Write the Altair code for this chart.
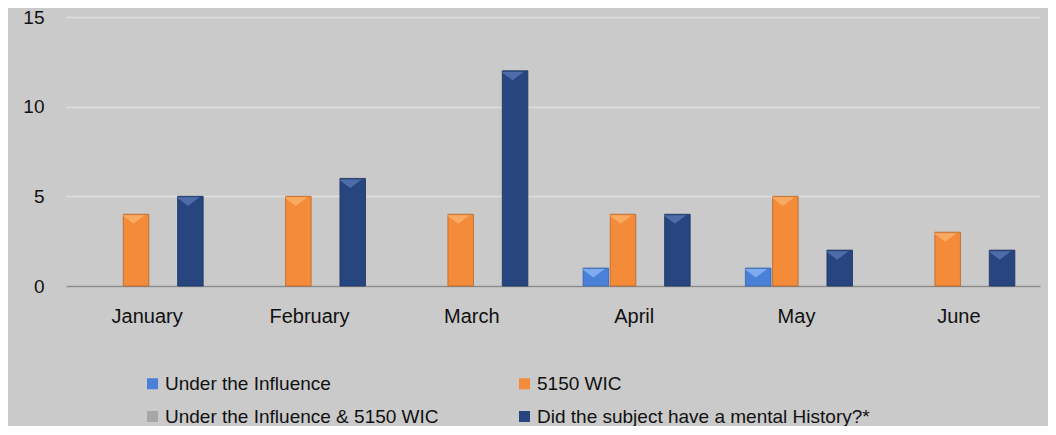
import altair as alt
import pandas as pd

months = ["January", "February", "March", "April", "May", "June"]
series = ["Under the Influence", "5150 WIC", "Under the Influence & 5150 WIC",
          "Did the subject have a mental History?*"]
under_influence = [0, 0, 0, 1, 1, 0]
wic_5150 = [4, 5, 4, 4, 5, 3]
both = [0, 0, 0, 0, 0, 0]
mental_history = [5, 6, 12, 4, 2, 2]
colors = ["#4a80d8", "#f38b38", "#a6a6a6", "#27467f"]
strokes = ["#3a64a8", "#b8682a", "#808080", "#1a3260"]
highlights = ["#7eaaf0", "#f9aa62", "#c8c8c8", "#4d6ca8"]

rows = []
for vals, s in zip([under_influence, wic_5150, both, mental_history], series):
    for m, v in zip(months, vals):
        rows.append({"month": m, "series": s, "value": v})
df = pd.DataFrame(rows)

FONT = "Liberation Sans"
legend_order = [series[0], series[2], series[1], series[3]]

base = alt.Chart(df).transform_filter("datum.value > 0")

x_enc = alt.X("month:N", sort=months, title=None,
              scale=alt.Scale(domain=months, paddingInner=0.33, paddingOuter=0.165),
              axis=alt.Axis(labelAngle=0, ticks=False, domain=True, domainColor="#8a8a8a",
                            domainWidth=1.5, labelPadding=20, labelFontSize=20,
                            labelColor="#111111", labelFont=FONT, grid=False))
xo_enc = alt.XOffset("series:N", scale=alt.Scale(domain=series, paddingInner=0, paddingOuter=0))
y_enc = alt.Y("value:Q", title=None,
              scale=alt.Scale(domain=[0, 15], nice=False),
              axis=alt.Axis(values=[0, 5, 10, 15], ticks=False, domain=False, labelPadding=22,
                            labelFontSize=19, labelColor="#111111", labelFont=FONT,
                            gridColor="#dedede", gridWidth=1.5))

bars = base.mark_bar(strokeWidth=1, strokeOpacity=0.8, width={"band": 0.94}).encode(
    x=x_enc, xOffset=xo_enc, y=y_enc,
    color=alt.Color("series:N",
                    scale=alt.Scale(domain=series, range=colors),
                    legend=alt.Legend(title=None, orient="none", legendX=77, legendY=357,
                                      values=legend_order,
                                      columns=2, columnPadding=76, rowPadding=13,
                                      symbolType="square", symbolSize=121,
                                      symbolStrokeWidth=0, labelFontSize=19,
                                      labelFont=FONT, labelColor="#111111",
                                      labelLimit=450, labelOffset=3)),
    stroke=alt.Stroke("series:N", scale=alt.Scale(domain=series, range=strokes), legend=None),
)

tops = base.mark_point(shape="M-1,0L1,0L0,0.75Z", size=520, filled=True, opacity=1,
                       strokeWidth=0, yOffset=1).encode(
    x=x_enc, xOffset=xo_enc, y=y_enc,
    fill=alt.Fill("series:N", scale=alt.Scale(domain=series, range=highlights), legend=None),
)

chart = alt.layer(bars, tops).resolve_scale(fill="independent").properties(
    width=974, height=269,
    padding={"left": 58, "top": 9, "right": 8, "bottom": 140},
    autosize=alt.AutoSizeParams(type="none"),
    background="#cacaca",
).configure_view(stroke=None)

chart.save("out.html", embed_options={"renderer": "svg", "actions": False})
